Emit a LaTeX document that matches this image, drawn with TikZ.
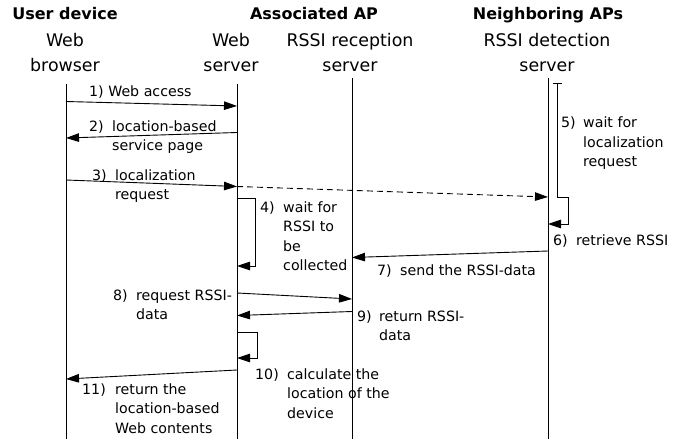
\documentclass[tikz,border=0pt]{standalone}
\usepackage{fontspec}
\setmainfont{DejaVu Sans}
\usetikzlibrary{arrows.meta}
\begin{document}
\begin{tikzpicture}[x=1pt,y=-1pt,
  life/.style={line width=0.9pt},
  msg/.style={line width=0.9pt,-{Triangle[length=13pt,width=8.5pt]}},
  dmsg/.style={msg,dash pattern=on 6pt off 4pt},
  lbl/.style={inner sep=0pt,anchor=base west,font=\fontsize{14.2}{19.5}\selectfont},
  head/.style={inner sep=0pt,anchor=base,font=\fontsize{16}{20}\selectfont\bfseries},
  capt/.style={inner sep=0pt,anchor=base,font=\fontsize{17.4}{25}\selectfont,align=center}
]
\path[use as bounding box] (0,0) rectangle (687,441);
% headers
\node[head] (hUser) at (65,20) {User device};
\node[head] (hAP) at (314,20) {Associated AP};
\node[head] (hNb) at (548,20) {Neighboring APs};
\node[capt] (cB) at (65,72) {Web\\browser};
\node[capt] (cW) at (231,72) {Web\\server};
\node[capt] (cR) at (350,72) {RSSI reception\\server};
\node[capt] (cD) at (547,72) {RSSI detection\\server};
% lifelines
\coordinate (Bt) at (66,84);  \coordinate (Bb) at (66,439);
\coordinate (Wt) at (237,84); \coordinate (Wb) at (237,439);
\coordinate (Rt) at (352,78); \coordinate (Rb) at (352,439);
\coordinate (Dt) at (548,78); \coordinate (Db) at (548,439);
\draw[life] (Bt) -- (Bb);
\draw[life] (Wt) -- (Wb);
\draw[life] (Rt) -- (Rb);
\draw[life] (Dt) -- (Db);
% message points
\coordinate (m1a) at (66,101.5);  \coordinate (m1b) at (237,106);
\coordinate (m2a) at (237,132.5); \coordinate (m2b) at (66,138);
\coordinate (m3a) at (66,180);    \coordinate (m3b) at (237,186.5);
\coordinate (m3c) at (548,197);
\coordinate (m4a) at (237,198);   \coordinate (m4b) at (255,198);
\coordinate (m4c) at (255,266);   \coordinate (m4d) at (237,266);
\coordinate (b5t) at (557,83);    \coordinate (b5l) at (553,83); \coordinate (b5r) at (562,83);
\coordinate (b5b) at (557,197);   \coordinate (m6b) at (568,197);
\coordinate (m6c) at (568,224);   \coordinate (m6d) at (548,224);
\coordinate (m7a) at (548,251);   \coordinate (m7b) at (352,257.5);
\coordinate (m8a) at (237,293);   \coordinate (m8b) at (352,299);
\coordinate (m9a) at (352,311.5); \coordinate (m9b) at (237,315.5);
\coordinate (m10a) at (237,332);  \coordinate (m10b) at (257,332);
\coordinate (m10c) at (257,358);  \coordinate (m10d) at (237,358);
\coordinate (m11a) at (237,370);  \coordinate (m11b) at (66,379);
% messages
\draw[msg] (m1a) -- (m1b);
\draw[msg] (m2a) -- (m2b);
\draw[msg] (m3a) -- (m3b);
\draw[dmsg] (m3b) -- (m3c);
\draw[msg] (m4a) -- (m4b) -- (m4c) -- (m4d);
\draw[life] (b5l) -- (b5r);
\draw[msg] (b5t) -- (b5b) -- (m6b) -- (m6c) -- (m6d);
\draw[msg] (m7a) -- (m7b);
\draw[msg] (m8a) -- (m8b);
\draw[msg] (m9a) -- (m9b);
\draw[msg] (m10a) -- (m10b) -- (m10c) -- (m10d);
\draw[msg] (m11a) -- (m11b);
% labels
\node[lbl] (l1) at (89,97) {1) Web access};
\node[lbl] (l2) at (89,131) {\begin{tabular}[t]{@{}p{23pt}@{}l@{}}2)&location-based\\&service page\end{tabular}};
\node[lbl] (l3) at (92,180) {\begin{tabular}[t]{@{}p{23pt}@{}l@{}}3)&localization\\&request\end{tabular}};
\node[lbl] (l4) at (260,212) {\begin{tabular}[t]{@{}p{23pt}@{}l@{}}4)&wait for\\&RSSI to\\&be\\&collected\end{tabular}};
\node[lbl] (l5) at (561,128) {\begin{tabular}[t]{@{}p{22pt}@{}l@{}}5)&wait for\\&localization\\&request\end{tabular}};
\node[lbl] (l6) at (553,245) {\begin{tabular}[t]{@{}p{23pt}@{}l@{}}6)&retrieve RSSI\end{tabular}};
\node[lbl] (l7) at (377,275) {\begin{tabular}[t]{@{}p{23pt}@{}l@{}}7)&send the RSSI-data\end{tabular}};
\node[lbl] (l8) at (113,300) {\begin{tabular}[t]{@{}p{23pt}@{}l@{}}8)&request RSSI-\\&data\end{tabular}};
\node[lbl] (l9) at (357,321) {\begin{tabular}[t]{@{}p{22pt}@{}l@{}}9)&return RSSI-\\&data\end{tabular}};
\node[lbl] (l10) at (255,379) {\begin{tabular}[t]{@{}p{32pt}@{}l@{}}10)&calculate the\\&location of the\\&device\end{tabular}};
\node[lbl] (l11) at (82,394) {\begin{tabular}[t]{@{}p{33pt}@{}l@{}}11)&return the\\&location-based\\&Web contents\end{tabular}};
\end{tikzpicture}
\end{document}
